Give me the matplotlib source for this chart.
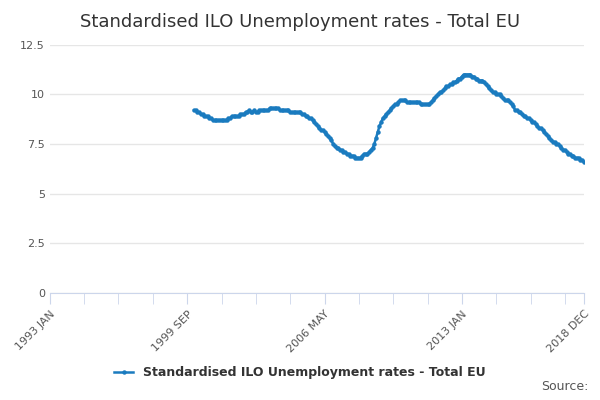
import numpy as np
import matplotlib.pyplot as plt

title = 'Standardised ILO Unemployment rates - Total EU'
series_name = 'Standardised ILO Unemployment rates - Total EU'

# monthly values, 2000 JAN .. 2018 DEC
rates = {
    2000: [9.2, 9.2, 9.1, 9.1, 9.0, 9.0, 8.9, 8.9, 8.9, 8.8, 8.8, 8.7],
    2001: [8.7, 8.7, 8.7, 8.7, 8.7, 8.7, 8.7, 8.7, 8.8, 8.8, 8.9, 8.9],
    2002: [8.9, 8.9, 8.9, 9.0, 9.0, 9.0, 9.1, 9.1, 9.2, 9.1, 9.1, 9.2],
    2003: [9.1, 9.1, 9.2, 9.2, 9.2, 9.2, 9.2, 9.2, 9.3, 9.3, 9.3, 9.3],
    2004: [9.3, 9.3, 9.2, 9.2, 9.2, 9.2, 9.2, 9.2, 9.1, 9.1, 9.1, 9.1],
    2005: [9.1, 9.1, 9.1, 9.0, 9.0, 8.9, 8.9, 8.8, 8.8, 8.7, 8.6, 8.5],
    2006: [8.4, 8.3, 8.2, 8.2, 8.1, 8.0, 7.9, 7.8, 7.7, 7.5, 7.4, 7.3],
    2007: [7.3, 7.2, 7.2, 7.1, 7.1, 7.0, 7.0, 6.9, 6.9, 6.9, 6.8, 6.8],
    2008: [6.8, 6.8, 6.9, 7.0, 7.0, 7.0, 7.1, 7.2, 7.3, 7.5, 7.8, 8.1],
    2009: [8.4, 8.6, 8.8, 8.9, 9.0, 9.1, 9.2, 9.3, 9.4, 9.5, 9.5, 9.6],
    2010: [9.7, 9.7, 9.7, 9.7, 9.6, 9.6, 9.6, 9.6, 9.6, 9.6, 9.6, 9.6],
    2011: [9.5, 9.5, 9.5, 9.5, 9.5, 9.5, 9.6, 9.7, 9.8, 9.9, 10.0, 10.1],
    2012: [10.1, 10.2, 10.3, 10.4, 10.4, 10.5, 10.5, 10.6, 10.6, 10.7, 10.8, 10.8],
    2013: [10.9, 11.0, 11.0, 11.0, 11.0, 11.0, 10.9, 10.9, 10.8, 10.8, 10.7, 10.7],
    2014: [10.7, 10.6, 10.5, 10.4, 10.3, 10.2, 10.1, 10.1, 10.0, 10.0, 10.0, 9.9],
    2015: [9.8, 9.7, 9.7, 9.7, 9.6, 9.5, 9.4, 9.2, 9.2, 9.1, 9.1, 9.0],
    2016: [8.9, 8.9, 8.8, 8.8, 8.7, 8.6, 8.6, 8.5, 8.4, 8.3, 8.3, 8.2],
    2017: [8.1, 8.0, 7.9, 7.8, 7.7, 7.6, 7.6, 7.5, 7.5, 7.4, 7.3, 7.2],
    2018: [7.2, 7.1, 7.0, 7.0, 6.9, 6.9, 6.8, 6.8, 6.8, 6.7, 6.7, 6.6],
}
values = [v for y in sorted(rates) for v in rates[y]]
start_month = (2000 - 1993) * 12  # index relative to 1993 JAN
x = np.arange(start_month, start_month + len(values))

tick_pos = [0, 80, 160, 240, 311]
tick_labels = ['1993 JAN', '1999 SEP', '2006 MAY', '2013 JAN', '2018 DEC']
minor_pos = np.arange(0, 312, 20)

fig = plt.figure(figsize=(6, 4), dpi=100)
ax = fig.add_axes([0.083, 0.268, 0.89, 0.62])
color = '#1a7bbf'
ax.plot(x, values, color=color, lw=1.8, marker='o', ms=2.2)
ax.set_xlim(0, 311)
ax.set_ylim(0, 12.5)
ax.set_yticks([0, 2.5, 5, 7.5, 10, 12.5])
ax.set_yticklabels(['0', '2.5', '5', '7.5', '10', '12.5'])
ax.set_xticks(tick_pos)
ax.set_xticklabels(tick_labels, rotation=45, ha='right', rotation_mode='anchor')
ax.set_xticks(minor_pos, minor=True)
ax.grid(axis='y', color='#e6e6e6', lw=1)
ax.set_axisbelow(True)
for s in ['top', 'right', 'left']:
    ax.spines[s].set_visible(False)
ax.spines['bottom'].set_color('#ccd6eb')
ax.tick_params(axis='y', length=0, labelsize=8, colors='#555555')
ax.tick_params(axis='x', which='both', length=8, color='#ccd6eb', labelsize=8, labelcolor='#555555')

fig.text(0.5, 0.945, title, ha='center', va='center', fontsize=13, color='#333333')
ax.plot([], [], color=color, lw=1.8, marker='o', ms=2.2, label=series_name)
leg = fig.legend(loc='center', bbox_to_anchor=(0.5, 0.068), frameon=False,
                 prop={'size': 9, 'weight': 'bold'}, handlelength=1.5)
for t in leg.get_texts():
    t.set_color('#333333')
fig.text(0.98, 0.025, 'Source:', ha='right', fontsize=9, color='#555555')
fig.savefig('out.png')
